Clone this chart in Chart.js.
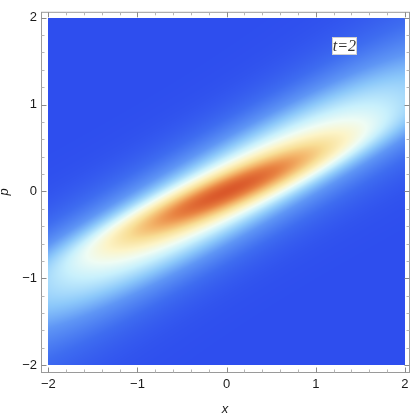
<!DOCTYPE html>
<html><head><meta charset="utf-8">
<script src="https://cdn.jsdelivr.net/npm/chart.js@4.4.1/dist/chart.umd.min.js"></script>
<style>html,body{margin:0;padding:0;background:#fff;overflow:hidden}#wrap{width:415px;height:414px}</style>
</head><body><div id="wrap"><canvas id="c" width="415" height="414"></canvas></div>
<script>
// ---- data ----
const xRange = [-2, 2];
const pRange = [-2, 2];
const xTicks = [-2, -1, 0, 1, 2];
const pTicks = [-2, -1, 0, 1, 2];
const minorStep = 0.2;
// density: sum of tilted Gaussian components
const compWeight = [0.40, 0.47, 0.13];
const compCenterX = [0, 0, 0];
const compCenterP = [0, 0, 0];
const compAngleDeg = [23, 28, 40];
const compSigmaAlong = [1.0, 2.7, 3.0];
const compSigmaAcross = [0.15, 0.40, 0.42];
// colour scale (TemperatureMap-like)
const colorLevels = [0, 0.12, 0.25, 0.35, 0.45, 0.52, 0.60, 0.70, 0.80, 0.90, 1.0];
const colorRGB = [[46,78,238],[62,108,240],[95,150,245],[140,200,250],[200,240,252],[238,252,244],[252,244,200],[248,222,150],[243,180,105],[232,130,65],[218,88,42]];
const labelText = 't=2';
const labelPos = [1.32, 1.67];

function density(x, p) {
  let s = 0;
  for (let i = 0; i < compWeight.length; i++) {
    const a = compAngleDeg[i] * Math.PI / 180;
    const dx = x - compCenterX[i], dp = p - compCenterP[i];
    const u = dx * Math.cos(a) + dp * Math.sin(a);
    const v = -dx * Math.sin(a) + dp * Math.cos(a);
    s += compWeight[i] * Math.exp(-0.5 * (u * u / (compSigmaAlong[i] ** 2) + v * v / (compSigmaAcross[i] ** 2)));
  }
  return s;
}
function colorAt(t) {
  t = Math.max(0, Math.min(1, t));
  for (let i = 1; i < colorLevels.length; i++) {
    if (t <= colorLevels[i]) {
      const f = (t - colorLevels[i - 1]) / (colorLevels[i] - colorLevels[i - 1]);
      const c0 = colorRGB[i - 1], c1 = colorRGB[i];
      return [c0[0] + (c1[0] - c0[0]) * f, c0[1] + (c1[1] - c0[1]) * f, c0[2] + (c1[2] - c0[2]) * f];
    }
  }
  return colorRGB[colorRGB.length - 1];
}

const heatPlugin = {
  id: 'heat',
  beforeDatasetsDraw(chart) {
    const xs = chart.scales.x, ys = chart.scales.y, ctx = chart.ctx;
    const px0 = Math.round(xs.getPixelForValue(xRange[0])), px1 = Math.round(xs.getPixelForValue(xRange[1]));
    const py0 = Math.round(ys.getPixelForValue(pRange[1])), py1 = Math.round(ys.getPixelForValue(pRange[0]));
    const w = px1 - px0, h = py1 - py0;
    const vals = new Float32Array(w * h);
    let mn = Infinity, mx = -Infinity;
    for (let j = 0; j < h; j++) {
      const p = ys.getValueForPixel(py0 + j + 0.5);
      for (let i = 0; i < w; i++) {
        const x = xs.getValueForPixel(px0 + i + 0.5);
        const v = density(x, p);
        vals[j * w + i] = v;
        if (v < mn) mn = v; if (v > mx) mx = v;
      }
    }
    const off = document.createElement('canvas');
    off.width = w; off.height = h;
    const octx = off.getContext('2d');
    const img = octx.createImageData(w, h);
    for (let k = 0; k < w * h; k++) {
      const c = colorAt((vals[k] - mn) / (mx - mn));
      img.data[4 * k] = c[0]; img.data[4 * k + 1] = c[1]; img.data[4 * k + 2] = c[2]; img.data[4 * k + 3] = 255;
    }
    octx.putImageData(img, 0, 0);
    ctx.drawImage(off, px0, py0);
  },
  afterDraw(chart) {
    const xs = chart.scales.x, ys = chart.scales.y, ctx = chart.ctx, a = chart.chartArea;
    ctx.save();
    ctx.strokeStyle = '#9a9a9a'; ctx.lineWidth = 1;
    ctx.strokeRect(a.left + 0.5, a.top + 0.5, a.right - a.left, a.bottom - a.top);
    const nMinor = Math.round((xRange[1] - xRange[0]) / minorStep);
    for (let k = 0; k <= nMinor; k++) {
      const v = xRange[0] + k * minorStep;
      const major = Math.abs(v - Math.round(v)) < 1e-6;
      const len = major ? 5 : 3;
      ctx.strokeStyle = major ? '#8a8a8a' : '#b5b5b5';
      const px = Math.round(xs.getPixelForValue(v)) + 0.5;
      ctx.beginPath();
      ctx.moveTo(px, a.bottom + 0.5); ctx.lineTo(px, a.bottom + 0.5 - len);
      ctx.moveTo(px, a.top + 0.5); ctx.lineTo(px, a.top + 0.5 + len);
      ctx.stroke();
    }
    const nMinorP = Math.round((pRange[1] - pRange[0]) / minorStep);
    for (let k = 0; k <= nMinorP; k++) {
      const v = pRange[0] + k * minorStep;
      const major = Math.abs(v - Math.round(v)) < 1e-6;
      const len = major ? 5 : 3;
      ctx.strokeStyle = major ? '#8a8a8a' : '#b5b5b5';
      const py = Math.round(ys.getPixelForValue(v)) + 0.5;
      ctx.beginPath();
      ctx.moveTo(a.left + 0.5, py); ctx.lineTo(a.left + 0.5 + len, py);
      ctx.moveTo(a.right + 0.5, py); ctx.lineTo(a.right + 0.5 - len, py);
      ctx.stroke();
    }
    ctx.font = 'italic 16px "Liberation Serif"';
    const tw = ctx.measureText(labelText).width;
    const cx = xs.getPixelForValue(labelPos[0]), cy = ys.getPixelForValue(labelPos[1]);
    const bw = Math.round(tw + 2), bh = 18;
    const bx = Math.round(cx - bw / 2), by = Math.round(cy - bh / 2);
    ctx.fillStyle = '#ffffff';
    ctx.fillRect(bx, by, bw, bh);
    ctx.strokeStyle = '#d0d0d0';
    ctx.strokeRect(bx + 0.5, by + 0.5, bw - 1, bh - 1);
    ctx.fillStyle = '#333';
    ctx.textAlign = 'center'; ctx.textBaseline = 'middle';
    ctx.fillText(labelText, cx, cy + 0.5);
    ctx.restore();
  }
};

const fmt = v => (v < 0 ? '\u2212' + Math.abs(v) : String(v));
const tickFont = { family: '"Liberation Sans", Arial, sans-serif', size: 13 };
const titleFont = { family: '"Liberation Sans", Arial, sans-serif', size: 13, style: 'italic', lineHeight: 1.0 };

new Chart(document.getElementById('c'), {
  type: 'scatter',
  data: { datasets: [{ data: [], pointRadius: 0 }] },
  plugins: [heatPlugin],
  options: {
    responsive: false,
    animation: false,
    events: [],
    layout: { padding: { top: 2, right: 6, left: 0, bottom: 0 } },
    plugins: { legend: { display: false }, tooltip: { enabled: false } },
    scales: {
      x: {
        type: 'linear', position: 'bottom',
        min: xRange[0] - 0.082, max: xRange[1] + 0.045,
        afterBuildTicks: s => { s.ticks = xTicks.map(v => ({ value: v })); },
        afterFit: s => { s.height = 42; },
        ticks: { callback: fmt, font: tickFont, color: '#1a1a1a', padding: 4.4, maxRotation: 0, autoSkip: false },
        grid: { display: false, drawTicks: false },
        border: { display: false },
        title: { display: true, text: 'x', font: titleFont, color: '#1a1a1a', padding: { top: 0, bottom: -1.5 } }
      },
      y: {
        type: 'linear', position: 'left',
        min: pRange[0] - 0.078, max: pRange[1] + 0.067,
        afterBuildTicks: s => { s.ticks = pTicks.map(v => ({ value: v })); },
        afterFit: s => { s.width = 41; },
        ticks: { callback: fmt, font: tickFont, color: '#1a1a1a', padding: 4, autoSkip: false },
        grid: { display: false, drawTicks: false },
        border: { display: false },
        title: { display: true, text: 'p', font: titleFont, color: '#1a1a1a', padding: { top: -2.5, bottom: 0 } }
      }
    }
  }
});
</script>
</body></html>
